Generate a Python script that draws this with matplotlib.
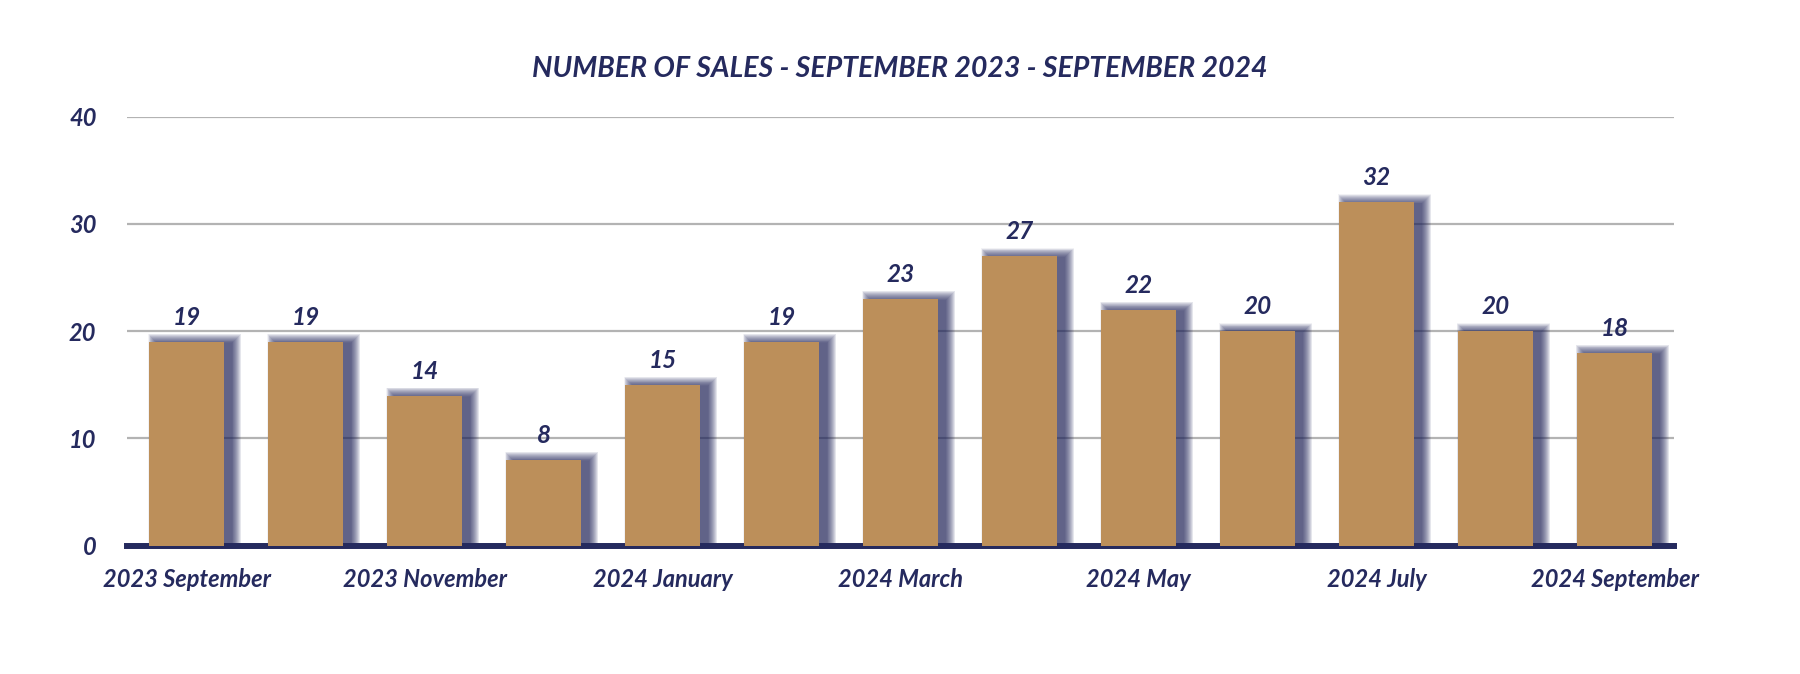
import matplotlib
matplotlib.use("Agg")
import matplotlib.pyplot as plt
import numpy as np

months = ["2023 September", "2023 October", "2023 November", "2023 December",
          "2024 January", "2024 February", "2024 March", "2024 April",
          "2024 May", "2024 June", "2024 July", "2024 August", "2024 September"]
sales = [19, 19, 14, 8, 15, 19, 23, 27, 22, 20, 32, 20, 18]
yticks = [0, 10, 20, 30, 40]

navy = "#252a5e"
tan = "#bc8f5a"
grid = "#b3b3b3"

plt.rcParams["font.family"] = ["Lato", "DejaVu Sans"]

fig = plt.figure(figsize=(18, 6.74), dpi=100)
ax = fig.add_axes([0.0706, 0.1904, 0.8594, 0.6365])

x = np.arange(len(months))
w = 0.63
# px -> data units
px_x = 1 / 119.0
px_y = 40 / 429.0

# soft shadow: many stacked translucent bars, offset right
for e in np.linspace(9, 0, 20):
    ax.bar(x + 8 * px_x, np.array(sales) + (e - 1) * px_y, width=w + 2 * e * px_x,
           color=navy, alpha=0.06, linewidth=0, zorder=2)

ax.bar(x, sales, width=w, color=tan, linewidth=0, zorder=3)

for xi, v in zip(x, sales):
    ax.text(xi, v + 13 * px_y, str(v), ha="center", va="bottom", color=navy,
            fontsize=17.5, fontweight="bold", style="italic", zorder=4)

ax.set_xlim(-0.5, len(months) - 0.5)
ax.set_ylim(0, 40)
ax.set_yticks(yticks)
ax.set_yticklabels([str(t) for t in yticks])
ax.set_xticks(x[::2])
ax.set_xticklabels(months[::2])
ax.grid(axis="y", color=grid, linewidth=1.6, zorder=0)
ax.set_axisbelow(True)

for s in ["top", "right", "left"]:
    ax.spines[s].set_visible(False)
ax.spines["bottom"].set_color(navy)
ax.spines["bottom"].set_linewidth(4.3)
ax.spines["bottom"].set_zorder(2.5)

ax.tick_params(axis="both", length=0, colors=navy)
ax.tick_params(axis="y", pad=22)
ax.tick_params(axis="x", pad=16)
for lab in ax.get_xticklabels() + ax.get_yticklabels():
    lab.set_fontsize(17)
    lab.set_fontweight("bold")
    lab.set_style("italic")
    lab.set_color(navy)

fig.text(0.5, 0.897, "NUMBER OF SALES - SEPTEMBER 2023 - SEPTEMBER 2024",
         ha="center", va="center", color=navy, fontsize=20.5,
         fontweight="bold", style="italic")

fig.savefig("out.png", dpi=100, facecolor="white")
